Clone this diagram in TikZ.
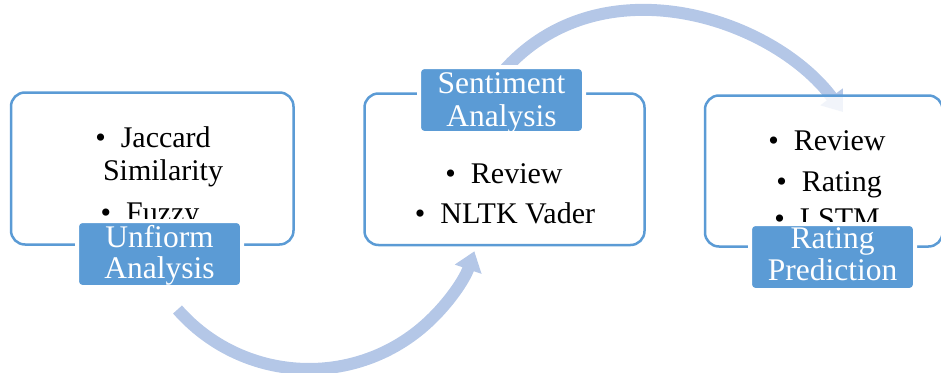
\documentclass[tikz,border=0pt]{standalone}
\usepackage{fontspec}
\setmainfont{Liberation Serif}
\usetikzlibrary{arrows.meta}
\definecolor{frameblue}{HTML}{5B9BD5}
\definecolor{flowblue}{HTML}{B4C7E7}
\newcommand\itembul{\textbullet\hspace{15pt}}
\begin{document}
\begin{tikzpicture}[x=1pt,y=1pt,
  panel/.style={draw=frameblue, line width=2.5pt, rounded corners=14pt,
    fill=white, fill opacity=0.82, inner sep=0pt},
  tag/.style={draw=white, line width=4pt, fill=frameblue, rounded corners=5pt,
    minimum width=165pt, minimum height=66pt, inner sep=0pt},
  bodytext/.style={anchor=base, inner sep=0pt,
    font=\fontsize{30pt}{32pt}\selectfont, text=black},
  tagtext/.style={anchor=base, inner sep=0pt,
    font=\fontsize{31.5pt}{33pt}\selectfont, text=white},
  flow/.style={draw=flowblue, line width=12pt,
    -{Triangle[width=27pt,length=19pt]}}
]
\useasboundingbox (0,0) rectangle (941,-372);

% curved flow arrows behind the panels
\coordinate (lc) at (309,-194);
\draw[flow] (lc) ++(221.3:175) arc[start angle=221.3, end angle=340.9, radius=175];

\coordinate (uA) at (500,-75);
\coordinate (uB) at (596.5,39.9);
\coordinate (uC) at (770.8,-16.1);
\coordinate (uD) at (843,-112);
\draw[flow] (uA) .. controls (uB) and (uC) .. (uD);

% panels
\node[panel, minimum width=282.5pt, minimum height=152pt] (p1) at (152.25,-168.5) {};
\node[panel, minimum width=280pt, minimum height=151.5pt] (p2) at (504.5,-169.25) {};
\node[panel, minimum width=237.5pt, minimum height=151pt] (p3) at (823.75,-171) {};

% panel contents
\node[bodytext] (t11) at (153,-147) {\itembul Jaccard};
\node[bodytext] (t12) at (163,-180) {Similarity};
\node[bodytext] (t13) at (150,-222) {\itembul Fuzzy};

\node[bodytext] (t21) at (504,-183) {\itembul Review};
\node[bodytext] (t22) at (505,-223) {\itembul NLTK Vader};

\node[bodytext] (t31) at (827,-150) {\itembul Review};
\node[bodytext] (t32) at (829,-191) {\itembul Rating};
\node[bodytext] (t33) at (827,-228) {\itembul LSTM};

% title tags
\node[tag] (g1) at (159.5,-254) {};
\node[tag] (g2) at (501.5,-100) {};
\node[tag] (g3) at (832.5,-257) {};

\node[tagtext] (g1a) at (159.5,-247) {Unfiorm};
\node[tagtext] (g1b) at (159.5,-278.5) {Analysis};
\node[tagtext] (g2a) at (501.5,-93.5) {Sentiment};
\node[tagtext] (g2b) at (501.5,-126) {Analysis};
\node[tagtext] (g3a) at (832.5,-248.5) {Rating};
\node[tagtext] (g3b) at (832.5,-280) {Prediction};
\end{tikzpicture}
\end{document}
